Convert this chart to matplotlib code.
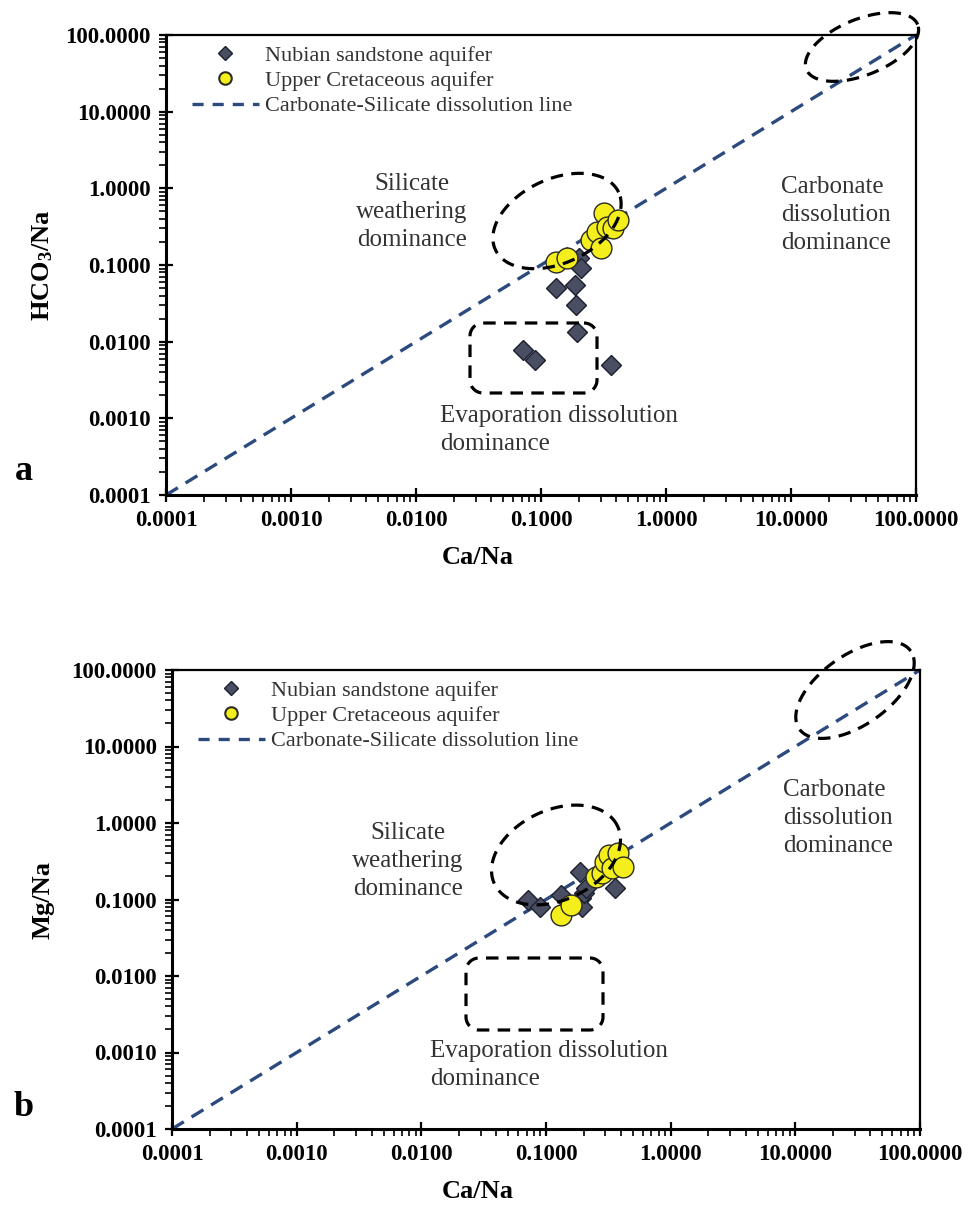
import numpy as np
import matplotlib
matplotlib.use('Agg')
import matplotlib.pyplot as plt
from matplotlib.ticker import FixedLocator, FuncFormatter, LogLocator, NullFormatter
from matplotlib.lines import Line2D

# Ca/Na ratios shared by both diagrams
nubian_ca = [0.072, 0.090, 0.132, 0.187, 0.190, 0.195, 0.203, 0.208, 0.360]
upper_ca = [0.133, 0.160, 0.250, 0.280, 0.300, 0.320, 0.340, 0.380, 0.415]

# HCO3/Na (diagram a)
nubian_hco3 = [0.00777, 0.00576, 0.0495, 0.0547, 0.0300, 0.0135, 0.122, 0.0903, 0.00495]
upper_hco3 = [0.110, 0.122, 0.215, 0.271, 0.165, 0.471, 0.315, 0.300, 0.385]

# Mg/Na (diagram b)
nubian_mg = [0.0988, 0.0808, 0.115, 0.231, 0.104, 0.081, 0.120, 0.140, 0.140]
upper_mg = [0.063, 0.085, 0.199, 0.225, 0.310, 0.381, 0.255, 0.400, 0.269]

line_x = [0.0001, 100]
decades = [0.0001, 0.001, 0.01, 0.1, 1, 10, 100]

plt.rcParams['font.family'] = ['Liberation Serif', 'DejaVu Serif']
plt.rcParams['mathtext.fontset'] = 'custom'
plt.rcParams['mathtext.rm'] = 'Liberation Serif'
plt.rcParams['mathtext.bf'] = 'Liberation Serif:bold'
plt.rcParams['lines.scale_dashes'] = False

W, H = 970, 1222
fig = plt.figure(figsize=(W / 100, H / 100), dpi=100)
fig.patch.set_facecolor('white')

TXT = '#333333'
DIAMOND = '#4a4e63'
YELLOW = '#f4ef1c'
BLUE = '#2c4a7e'


def add_axes_px(left, top, right, bottom):
    return fig.add_axes([left / W, 1 - bottom / H, (right - left) / W, (bottom - top) / H])


def px_to_axes(ax, xs, ys):
    bb = ax.get_position()
    x0, y0 = bb.x0 * W, (1 - bb.y0) * H
    return (np.asarray(xs) - x0) / (bb.width * W), (y0 - np.asarray(ys)) / (bb.height * H)


def dashed_ellipse(ax, cx, cy, a, b, angle):
    t = np.linspace(0, 2 * np.pi, 400)
    th = np.deg2rad(angle)
    ex, ey = a * np.cos(t), b * np.sin(t)
    px = cx + ex * np.cos(th) - ey * np.sin(th)
    py = cy - (ex * np.sin(th) + ey * np.cos(th))
    fx, fy = px_to_axes(ax, px, py)
    ax.plot(fx, fy, transform=ax.transAxes, color='black', lw=2.3,
            dashes=(9, 6), clip_on=False, zorder=6)


def dashed_box(ax, x0, y0, x1, y1, r=13):
    pts = []
    for cx, cy, a0, a1 in [(x1 - r, y0 + r, -90, 0), (x1 - r, y1 - r, 0, 90),
                           (x0 + r, y1 - r, 90, 180), (x0 + r, y0 + r, 180, 270)]:
        phi = np.deg2rad(np.linspace(a0, a1, 20))
        pts += list(zip(cx + r * np.cos(phi), cy + r * np.sin(phi)))
    pts.append(pts[0])
    px, py = np.array(pts).T
    fx, fy = px_to_axes(ax, px, py)
    ax.plot(fx, fy, transform=ax.transAxes, color='black', lw=2.3,
            dashes=(9, 6), clip_on=False, zorder=6)


def base_axes(ax):
    ax.set_xscale('log')
    ax.set_yscale('log')
    ax.set_xlim(0.0001, 100)
    ax.set_ylim(0.0001, 100)
    fmt = FuncFormatter(lambda v, p: f'{v:.4f}')
    for axis in (ax.xaxis, ax.yaxis):
        axis.set_major_locator(FixedLocator(decades))
        axis.set_major_formatter(fmt)
        axis.set_minor_locator(LogLocator(base=10, subs=np.arange(2, 10), numticks=100))
        axis.set_minor_formatter(NullFormatter())
    ax.tick_params(which='major', direction='inout', length=10, width=1.6,
                   labelsize=16.5, pad=6, top=False, right=False)
    ax.tick_params(which='minor', direction='out', length=5, width=1.2,
                   top=False, right=False)
    plt.setp(ax.get_xticklabels(), fontweight='bold')
    plt.setp(ax.get_yticklabels(), fontweight='bold')
    for s in ax.spines.values():
        s.set_linewidth(1.6)
    ax.spines['left'].set_linewidth(2.2)
    ax.spines['bottom'].set_linewidth(2.2)


def draw_panel(ax, y_nub, y_up):
    ax.plot(line_x, line_x, color=BLUE, lw=2.4, dashes=(10, 6.5), zorder=2,
            clip_on=False)
    ax.plot(nubian_ca, y_nub, linestyle='none', marker='D', ms=10.5,
            mfc=DIAMOND, mec='#1c1f2e', mew=1.0, zorder=3)
    ax.plot(upper_ca, y_up, linestyle='none', marker='o', ms=15,
            mfc=YELLOW, mec='#2b2b22', mew=1.0, zorder=4)
    handles = [
        Line2D([], [], linestyle='none', marker='D', ms=7.5, mfc=DIAMOND, mec='#1c1f2e'),
        Line2D([], [], linestyle='none', marker='o', ms=9, mfc=YELLOW, mec='#2b2b22', mew=1.5),
        Line2D([], [], color=BLUE, lw=2.4, dashes=(8, 6.5)),
    ]
    labels = ['Nubian sandstone aquifer', 'Upper Cretaceous aquifer',
              'Carbonate-Silicate dissolution line']
    leg = ax.legend(handles, labels, loc='upper left',
                    bbox_to_anchor=(26 / 750, 1 - 10 / 460), frameon=False,
                    fontsize=16, handlelength=3.0, handletextpad=0.3,
                    labelspacing=0.22, borderpad=0, borderaxespad=0)
    for t in leg.get_texts():
        t.set_color(TXT)


# diagram a: HCO3/Na vs Ca/Na
ax1 = add_axes_px(166, 35, 916, 495)
base_axes(ax1)
draw_panel(ax1, nubian_hco3, upper_hco3)
dashed_ellipse(ax1, 557, 221, 68, 42, 25)
dashed_ellipse(ax1, 862, 47, 60, 28, 22)
dashed_box(ax1, 470, 323, 597, 393)

# diagram b: Mg/Na vs Ca/Na
ax2 = add_axes_px(172, 670, 920, 1129)
base_axes(ax2)
draw_panel(ax2, nubian_mg, upper_mg)
dashed_ellipse(ax2, 556, 855, 68, 45, 25)
dashed_ellipse(ax2, 855, 690, 68, 35, 35)
dashed_box(ax2, 466, 958, 603, 1030)


def ftext(x, y, s, **kw):
    fig.text(x / W, 1 - y / H, s, **kw)


# axis titles and panel letters
ftext(478, 557, 'Ca/Na', ha='center', va='center', fontsize=19, fontweight='bold')
ftext(478, 1191, 'Ca/Na', ha='center', va='center', fontsize=19, fontweight='bold')
ftext(43, 265, r'$\mathbf{HCO_3/Na}$', ha='center', va='center', fontsize=19, rotation=90)
ftext(43, 900, 'Mg/Na', ha='center', va='center', fontsize=19, fontweight='bold', rotation=90)
ftext(24, 472, 'a', ha='center', va='center', fontsize=26, fontweight='bold')
ftext(24, 1107, 'b', ha='center', va='center', fontsize=26, fontweight='bold')

# region annotations
note = dict(fontsize=18, color=TXT, linespacing=1.35)
ftext(412, 212, 'Silicate\nweathering\ndominance', ha='center', va='center',
      multialignment='center', **note)
ftext(781, 215, 'Carbonate\ndissolution\ndominance', ha='left', va='center', **note)
ftext(440, 430, 'Evaporation dissolution\ndominance', ha='left', va='center', **note)

ftext(408, 861, 'Silicate\nweathering\ndominance', ha='center', va='center',
      multialignment='center', **note)
ftext(783, 818, 'Carbonate\ndissolution\ndominance', ha='left', va='center', **note)
ftext(430, 1065, 'Evaporation dissolution\ndominance', ha='left', va='center', **note)

fig.savefig('out.png', dpi=100, facecolor='white')
